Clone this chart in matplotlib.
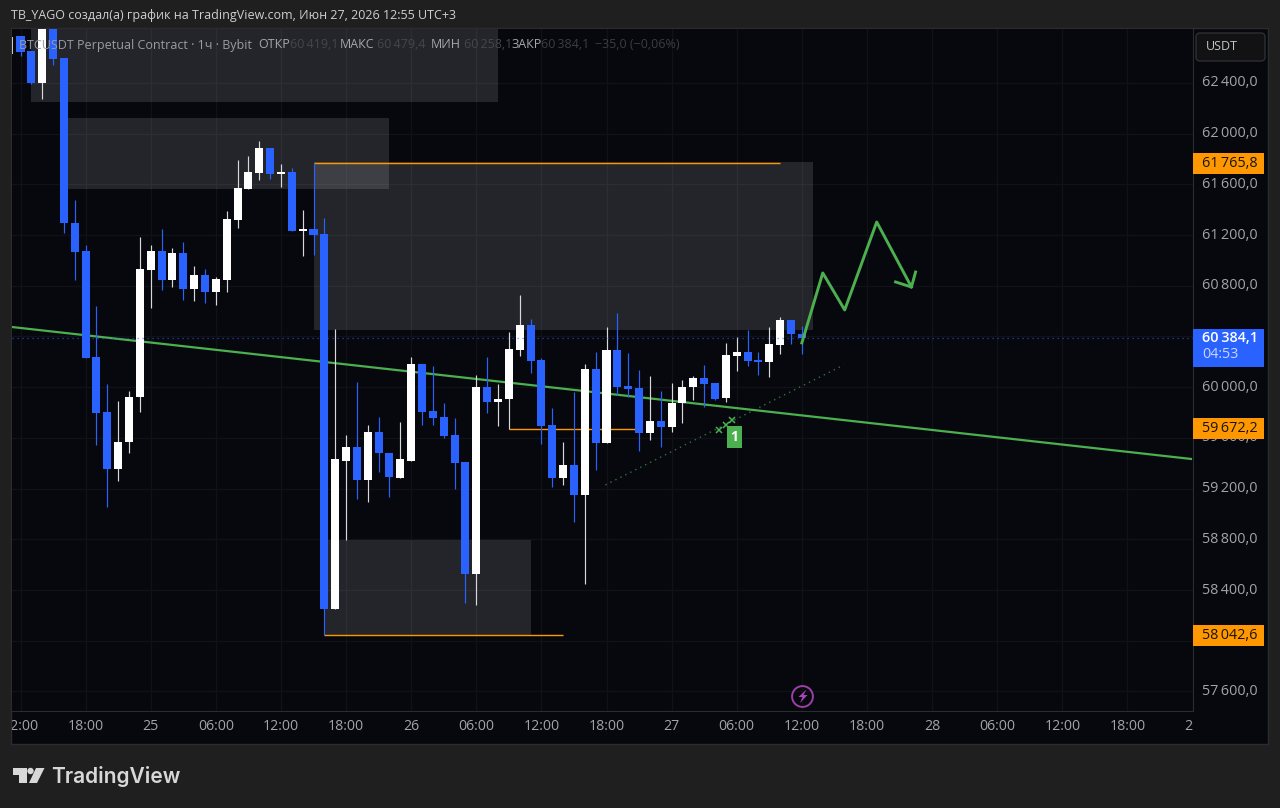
import matplotlib
matplotlib.use('Agg')
import matplotlib.pyplot as plt
from matplotlib.patches import Rectangle, Polygon, Circle, FancyBboxPatch

plt.rcParams['font.family'] = ['Open Sans', 'DejaVu Sans']

# hourly candles, first one is Jun 24 12:00
opens = [62770, 62651, 62399, 62856, 62596, 61295, 61074, 60238, 59804, 59355, 59568, 59923,
         60924, 61074, 60845, 61058, 60774, 60885, 60751, 60845, 61319, 61563, 61689, 61886,
         61681, 61697, 61232, 61248, 61208, 58251, 59418, 59529, 59268, 59647, 59481, 59284,
         59418, 60183, 59812, 59765, 59623, 59410, 58527, 60002, 59883, 59907, 60293, 60491,
         60214, 59702, 59284, 59387, 59150, 60144, 59560, 60293, 60010, 59994, 59639, 59733,
         59686, 59875, 60002, 60073, 60033, 59915, 60246, 60278, 60214, 60199, 60333, 60530,
         60419.1]
highs = [62770, 62651, 62870, 62880, 62596, 61476, 61121, 60640, 60025, 59891, 59970, 61184,
         61121, 61248, 61098, 61145, 60956, 60932, 60869, 61390, 61792, 61823, 61942, 61890,
         61760, 61729, 61397, 61765.8, 61334, 60459, 59623, 60041, 59702, 59765, 59481, 59726,
         60238, 60183, 60167, 59875, 59757, 59410, 60096, 60238, 60025, 60435, 60727, 60538,
         60230, 59836, 59568, 59962, 60183, 60278, 60475, 60585, 60270, 60136, 60088, 59970,
         60033, 60057, 60088, 60175, 60033, 60349, 60396, 60451, 60278, 60475, 60554, 60530,
         60479.4]
lows = [62612, 62391, 62273, 62541, 61216, 60845, 60230, 59544, 59055, 59260, 59481, 59804,
        60625, 60767, 60790, 60688, 60680, 60664, 60648, 60751, 61255, 61563, 61634, 61642,
        61579, 61232, 61035, 61043, 58042.6, 58251, 58795, 59118, 59095, 59331, 59134, 59284,
        59418, 59702, 59702, 59599, 59197, 58298, 58282, 59797, 59694, 59670, 60246, 60112,
        59552, 59213, 59229, 58937, 58448, 59347, 59560, 59938, 59923, 59497, 59584, 59529,
        59647, 59718, 59899, 59844, 59899, 59883, 60128, 60167, 60096, 60080, 60262, 60341,
        60258.1]
closes = [62643, 62399, 62856, 62588, 61295, 61066, 60230, 59797, 59355, 59568, 59923, 60932,
          61074, 60845, 61058, 60774, 60885, 60751, 60853, 61326, 61571, 61697, 61886, 61681,
          61697, 61232, 61248, 61200, 58251, 59434, 59529, 59268, 59647, 59481, 59292, 59434,
          60183, 59804, 59757, 59615, 59402, 58527, 60002, 59883, 59907, 60301, 60491, 60207,
          59694, 59284, 59387, 59150, 60144, 59560, 60293, 60002, 59986, 59639, 59733, 59686,
          59875, 60002, 60073, 60025, 59907, 60254, 60278, 60207, 60199, 60341, 60530, 60420,
          60384.1]
hours = list(range(len(opens)))

# drawn objects
zone_left = [1, 4.33, 27, 28]
zone_right = [44, 34, 73, 47]
zone_top = [62900, 62123, 61776, 58795]
zone_bottom = [62249, 61563, 60451, 58042.6]

level_prices = [61765.8, 59672.2, 58042.6]
level_start = [27, 45, 28]
level_end = [70, 57, 50]

trend_hours = [-0.83, 107.86]
trend_prices = [60475, 59434]
dotted_hours = [53.9, 75.86]
dotted_prices = [59229, 60175]
forecast_hours = [72, 73.93, 75.95, 78.9, 82.1]
forecast_prices = [60349, 60901, 60609, 61303, 60790]
head_hours = [80.64, 82.1, 82.48]
head_prices = [60830, 60790, 60908]
cross_hours = [64.4, 65, 65.6]
cross_prices = [59662, 59702, 59741]

price_ticks = [62400, 62000, 61600, 61200, 60800, 60400, 60000, 59600, 59200, 58800, 58400, 58000, 57600]
time_ticks = list(range(0, 109, 6))
time_labels = ['12:00', '18:00', '25', '06:00', '12:00', '18:00', '26', '06:00', '12:00', '18:00',
               '27', '06:00', '12:00', '18:00', '28', '06:00', '12:00', '18:00', '29']

BG = '#1f1f1f'
PANEL = '#07080d'
BLUE = '#2962ff'
GREEN = '#4caf50'
ORANGE = '#ff9800'
GRID = '#101217'
W, H = 1280, 808


def px_axes(fig, left, top, right, bottom, **kw):
    return fig.add_axes([left / W, 1 - bottom / H, (right - left) / W, (bottom - top) / H], **kw)


def fmt(p):
    s = f'{p:,.1f}'
    return s.replace(',', '\u2009').replace('.', ',')


fig = plt.figure(figsize=(12.8, 8.08), dpi=100, facecolor=BG)

# panel behind everything, in pixel coordinates
back = px_axes(fig, 0, 0, W, H, zorder=0)
back.set_xlim(0, W)
back.set_ylim(H, 0)
back.axis('off')
back.add_patch(Rectangle((11, 28), 1257, 716, fc=PANEL, ec='#2b2c2e', lw=1))

ax = px_axes(fig, 11.5, 29, 1192.5, 711, zorder=1, facecolor=PANEL)
ax.set_xlim(-0.83, 107.86)
ax.set_ylim(57446, 62825)
for s in ax.spines.values():
    s.set_visible(False)
ax.spines['bottom'].set_visible(True)
ax.spines['bottom'].set_color('#2b2c2e')
ax.spines['right'].set_visible(True)
ax.spines['right'].set_color('#2b2c2e')
ax.tick_params(left=False, bottom=False, labelleft=False, labelbottom=False)
ax.set_xticks(time_ticks)
ax.set_yticks(price_ticks)
ax.grid(True, color=GRID, lw=1)
ax.set_axisbelow(True)

for l, r, t, b in zip(zone_left, zone_right, zone_top, zone_bottom):
    ax.add_patch(Rectangle((l, b), r - l, t - b, fc='#e8e9f2', ec='none', alpha=0.135, zorder=1))

ax.hlines(level_prices, level_start, level_end, color=ORANGE, lw=1, zorder=2)
ax.plot(dotted_hours, dotted_prices, color=GREEN, lw=1, ls=(0, (1, 3)), alpha=0.65, zorder=2)
ax.plot(trend_hours, trend_prices, color=GREEN, lw=1.6, zorder=2.5)

ups = [c >= o for o, c in zip(opens, closes)]
colors = ['#ffffff' if u else BLUE for u in ups]
wick_colors = ['#d8d8d8' if u else BLUE for u in ups]
ax.vlines(hours, lows, highs, color=wick_colors, lw=0.85, zorder=3)
ax.bar(hours, [abs(c - o) for o, c in zip(opens, closes)], bottom=[min(o, c) for o, c in zip(opens, closes)],
       width=0.74, color=colors, zorder=3.2)

ax.axhline(closes[-1], color=BLUE, lw=0.9, ls=(0, (1, 3)), alpha=0.7, zorder=3.5)
ax.plot(forecast_hours, forecast_prices, color=GREEN, lw=2.1, zorder=4)
ax.plot(head_hours, head_prices, color=GREEN, lw=2.1, zorder=4)
ax.plot(cross_hours, cross_prices, ls='none', marker='x', ms=4.5, mew=1.1, color=GREEN, zorder=4)

# bolt marker under the last candle
ax.plot([72], [57565], marker='o', ms=15, mfc='none', mec='#9c3fa8', mew=1.4, zorder=4)

# time axis
tax = px_axes(fig, 11.5, 711, 1192.5, 743, zorder=2)
tax.set_xlim(ax.get_xlim())
tax.set_ylim(0, 1)
tax.axis('off')
for t, lab in zip(time_ticks, time_labels):
    tax.text(t, 0.5, lab, color='#a3a4a9', fontsize=10.2, ha='center', va='center', clip_on=True)

# price axis
pax = px_axes(fig, 1192.5, 29, 1268, 711, zorder=2)
pax.set_xlim(0, 75.5)
pax.set_ylim(ax.get_ylim())
pax.axis('off')
for p in price_ticks:
    if p == 58000:
        continue
    pax.text(9.5, p, fmt(p), color='#a3a4a9', fontsize=10.4, ha='left', va='center')
TAG_H = 166
for p in level_prices:
    pax.add_patch(Rectangle((0.5, p - TAG_H / 2), 71, TAG_H, fc=ORANGE, ec='none', zorder=3))
    pax.text(9.5, p, fmt(p), color='#17130c', fontsize=10.4, ha='left', va='center', zorder=4)
pax.add_patch(Rectangle((0.5, closes[-1] - 222), 71, 300, fc=BLUE, ec='none', zorder=3))
pax.text(9.5, closes[-1], fmt(closes[-1]), color='white', fontsize=10.4, ha='left', va='center', zorder=4,
         fontweight='semibold')
pax.text(9.5, closes[-1] - 130, '04:53', color='#c9d6ff', fontsize=10.4, ha='left', va='center', zorder=4)

# texts and logo on top
top = px_axes(fig, 0, 0, W, H, zorder=5)
top.set_xlim(0, W)
top.set_ylim(H, 0)
top.axis('off')
top.patch.set_alpha(0)

top.text(11, 16, 'TB_YAGO создал(а) график на TradingView.com, Июн 27, 2026 12:55 UTC+3',
         color='#cfcfcf', fontsize=9, va='center')

top.add_patch(Rectangle((11.5, 37), 1.5, 17, fc='#c8c8c8', ec='none'))
top.text(19, 45, 'BTCUSDT Perpetual Contract · 1ч · Bybit', color='#9a9ca3', fontsize=9, va='center')
for x, lab, col in [(258, 'ОТКР', '#a5a7ad'), (290, fmt(60419.1), '#44464e'),
                    (340, 'МАКС', '#a5a7ad'), (377, fmt(60479.4), '#44464e'),
                    (431, 'МИН', '#a5a7ad'), (464, fmt(60258.1), '#44464e'),
                    (511, 'ЗАКР', '#a5a7ad'), (541, fmt(60384.1), '#3b3d45'),
                    (595, '−35,0 (−0,06%)', '#3b3d45')]:
    top.text(x, 45, lab, color=col, fontsize=9, va='center')

top.add_patch(FancyBboxPatch((1199, 36), 63, 22, boxstyle='round,pad=3,rounding_size=4',
                             fc='#121214', ec='#2e2f32', lw=1))
top.text(1206, 46.5, 'USDT', color='#c4c5c9', fontsize=9, va='center')

top.add_patch(Rectangle((727, 426), 15, 22, fc=GREEN, ec='none'))
top.text(734.5, 437, '1', color='white', fontsize=10, fontweight='bold', ha='center', va='center')

# bolt inside the circle
top.add_patch(Polygon([(806.5, 689.5), (798.5, 697), (802.5, 697), (800, 703), (807.5, 695), (803.5, 695)],
                      fc='#a845bb', ec='none'))

top.add_patch(Polygon([(13, 768), (26.5, 768), (26.5, 783), (19, 783), (19, 774.5), (13, 774.5)],
                      fc='#d8d8d8', ec='none'))
top.add_patch(Circle((30.5, 771), 3.2, fc='#d8d8d8', ec='none'))
top.add_patch(Polygon([(36, 768), (44.5, 768), (37, 783), (29, 783)], fc='#d8d8d8', ec='none'))
top.text(51.5, 776.5, 'TradingView', color='#d8d8d8', fontsize=15.1, family='Inter', fontweight='semibold',
         va='center')

fig.savefig('out.png', dpi=100, facecolor=BG)
